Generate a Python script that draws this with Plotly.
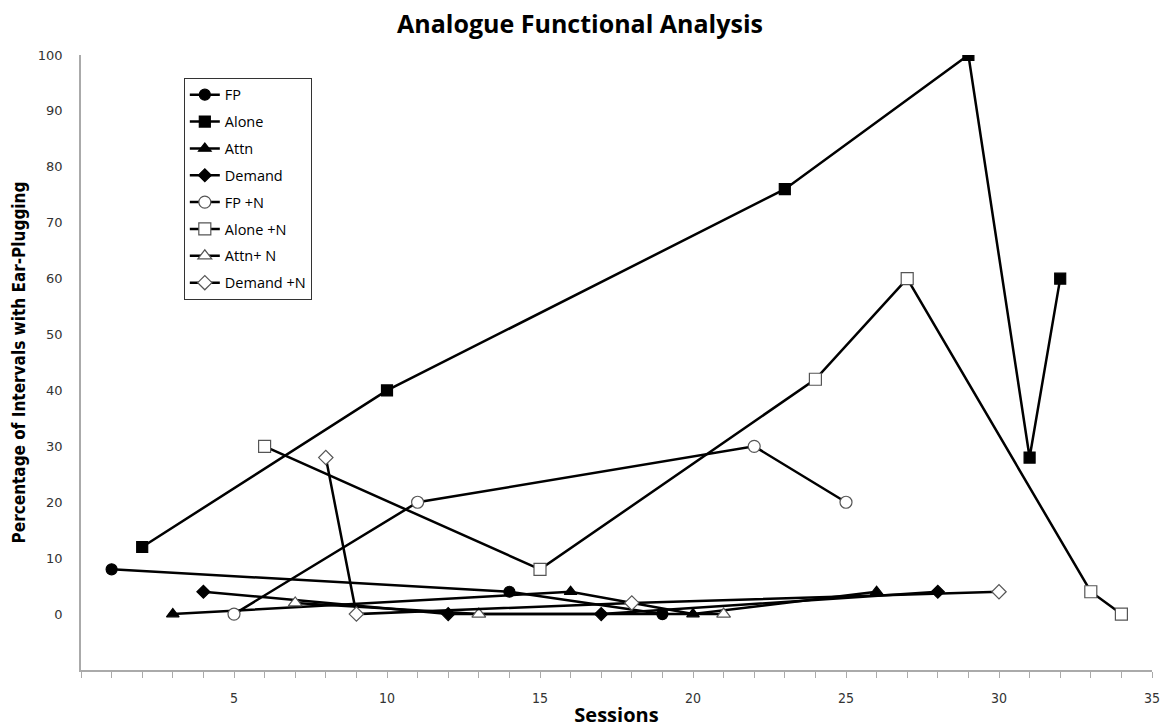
import plotly.graph_objects as go

# Data
fp_x = [1, 14, 19]
fp_y = [8, 4, 0]
alone_x = [2, 10, 23, 29, 31, 32]
alone_y = [12, 40, 76, 100, 28, 60]
attn_x = [3, 16, 20, 26]
attn_y = [0, 4, 0, 4]
demand_x = [4, 12, 17, 28]
demand_y = [4, 0, 0, 4]
fpn_x = [5, 11, 22, 25]
fpn_y = [0, 20, 30, 20]
alonen_x = [6, 15, 24, 27, 33, 34]
alonen_y = [30, 8, 42, 60, 4, 0]
attnn_x = [7, 13, 21]
attnn_y = [2, 0, 0]
demandn_x = [8, 9, 18, 30]
demandn_y = [28, 0, 2, 4]

x_tick_labels = [5, 10, 15, 20, 25, 30, 35]
y_tick_labels = [0, 10, 20, 30, 40, 50, 60, 70, 80, 90, 100]

series = [
    ("FP", fp_x, fp_y, "circle", "black", 11),
    ("Alone", alone_x, alone_y, "square", "black", 11),
    ("Attn", attn_x, attn_y, "triangle-up", "black", 11),
    ("Demand", demand_x, demand_y, "diamond", "black", 10),
    ("FP +N", fpn_x, fpn_y, "circle", "white", 12),
    ("Alone +N", alonen_x, alonen_y, "square", "white", 12),
    ("Attn+ N", attnn_x, attnn_y, "triangle-up", "white", 12),
    ("Demand +N", demandn_x, demandn_y, "diamond", "white", 11),
]

fig = go.Figure()
for i, (name, xs, ys, sym, fill, size) in enumerate(series):
    outline = "black" if fill == "black" else "#555555"
    fig.add_trace(go.Scatter(
        x=xs, y=ys, name=name, mode="lines+markers",
        legendgroup="g%d" % i,
        line=dict(color="black", width=2.5),
        marker=dict(symbol=sym, size=size, color=fill,
                    line=dict(color=outline, width=1.2)),
    ))

cond = "DejaVu Sans Condensed, Liberation Sans Narrow, Arial Narrow, sans-serif"
fig.update_layout(
    width=1160, height=728,
    paper_bgcolor="white", plot_bgcolor="white",
    margin=dict(l=81, r=8, t=55, b=58, autoexpand=False),
    title=dict(text="<b>Analogue Functional Analysis</b>",
               x=0.5, xanchor="center", y=0.967, yanchor="middle",
               font=dict(family="Open Sans, Liberation Sans, Arial", size=25, color="black")),
    showlegend=True,
    legend=dict(x=0.096, y=0.963, xanchor="left", yanchor="top",
                bgcolor="white", bordercolor="#333333", borderwidth=1,
                tracegroupgap=5,
                font=dict(family="Open Sans, Liberation Sans, Arial", size=14.5, color="black")),
    xaxis=dict(
        range=[0, 35], showgrid=False, zeroline=False, automargin=False,
        showline=True, linecolor="#aaaaaa", linewidth=1.5,
        tickmode="array", tickvals=x_tick_labels,
        ticktext=[str(v) for v in x_tick_labels],
        ticks="outside", ticklen=6, tickcolor="#aaaaaa", ticklabelstandoff=8,
        ticklabeloverflow="allow",
        minor=dict(dtick=1, tick0=0, ticks="outside", ticklen=6, tickcolor="#aaaaaa"),
        tickfont=dict(family=cond, size=14, color="#333333"),
        title=dict(text="<b>Sessions</b>", standoff=12,
                   font=dict(family="Open Sans, Liberation Sans, Arial", size=20, color="black")),
    ),
    yaxis=dict(
        range=[-10, 100], showgrid=False, zeroline=False, automargin=False,
        showline=True, linecolor="#aaaaaa", linewidth=1.5,
        tickmode="array", tickvals=y_tick_labels,
        ticktext=[str(v) for v in y_tick_labels],
        ticks="", ticklabelstandoff=14,
        tickfont=dict(family="DejaVu Sans, Verdana", size=13, color="#333333"),
        title=dict(text="<b>Percentage of Intervals with Ear-Plugging</b>", standoff=8,
                   font=dict(family=cond, size=17, color="black")),
    ),
)

fig.write_html(
    "out.html",
    config={"displayModeBar": False},
    post_script="document.body.style.margin='0';document.body.style.overflow='hidden';",
)
